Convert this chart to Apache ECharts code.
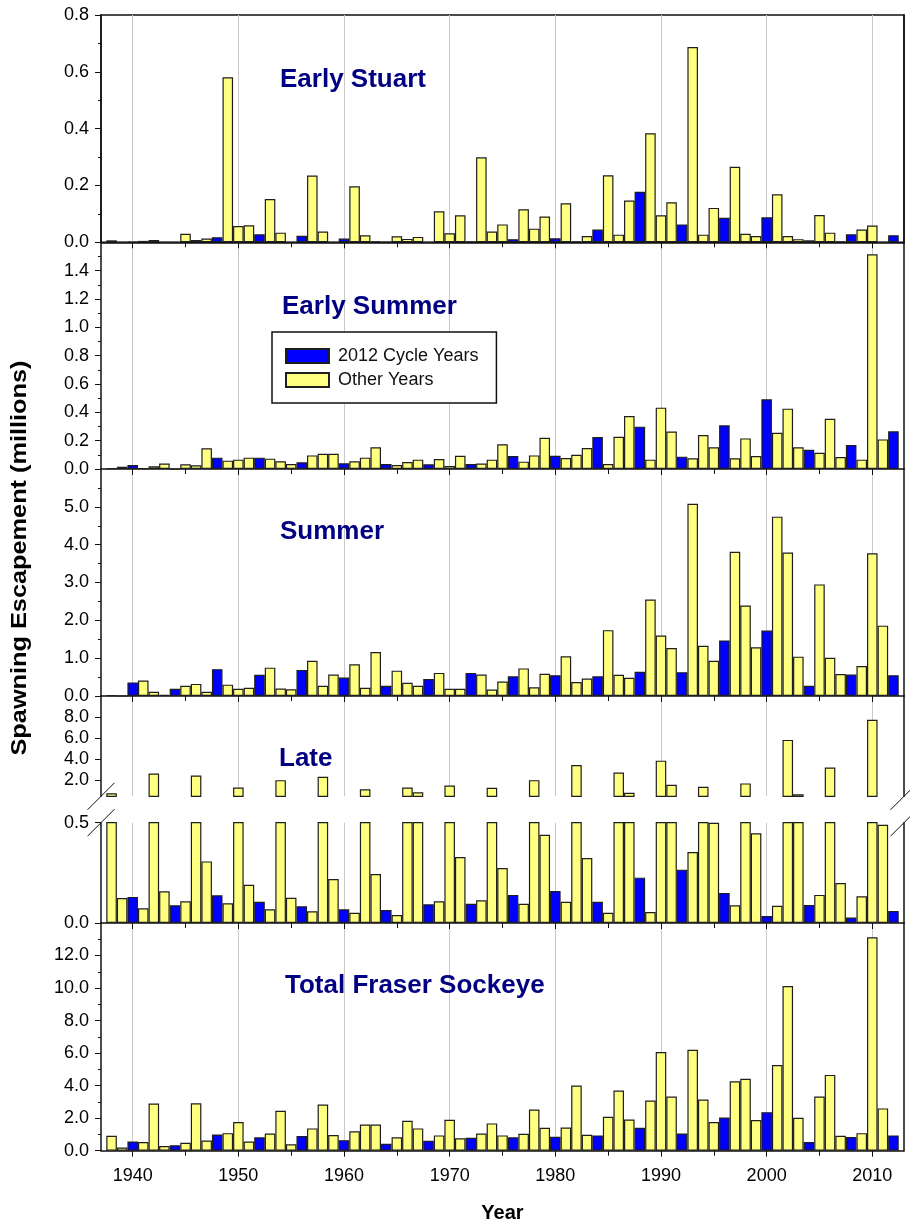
<!DOCTYPE html>
<html>
<head>
<meta charset="utf-8">
<title>Fraser Sockeye Spawning Escapement</title>
<script src="https://cdn.jsdelivr.net/npm/echarts@6/dist/echarts.min.js"></script>
<style>
  html, body { margin: 0; padding: 0; background: #ffffff; }
  #chart { width: 910px; height: 1226px; }
</style>
</head>
<body>
<div id="chart"></div>
<script>
// Brood years shown on the chart
const years = Array.from({ length: 75 }, (_, i) => 1938 + i); // 1938 .. 2012
const cycleYear = 2012; // years on the same 4-year cycle as 2012 are highlighted

// X-axis tick positions
const decadeTicks = [1940, 1950, 1960, 1970, 1980, 1990, 2000, 2010];
const midDecadeTicks = [1945, 1955, 1965, 1975, 1985, 1995, 2005];

// Spawning escapement by run timing group (millions), 1938 .. 2012
const earlyStuart = [
  0.007, 0, 0.002, 0.005, 0.008, 0, 0, 0.030, 0.008, 0.013,
  0.018, 0.581, 0.057, 0.060, 0.028, 0.152, 0.034, 0, 0.023, 0.235,
  0.038, 0, 0.013, 0.197, 0.025, 0.004, 0.001, 0.021, 0.012, 0.019,
  0, 0.109, 0.032, 0.095, 0.004, 0.299, 0.038, 0.063, 0.011, 0.116,
  0.048, 0.091, 0.014, 0.137, 0.004, 0.022, 0.045, 0.236, 0.027, 0.147,
  0.178, 0.384, 0.095, 0.141, 0.063, 0.687, 0.027, 0.121, 0.086, 0.266,
  0.030, 0.022, 0.088, 0.169, 0.022, 0.011, 0.007, 0.096, 0.034, 0.004,
  0.028, 0.045, 0.059, 0, 0.025
];
const earlySummer = [
  0.005, 0.016, 0.028, 0.005, 0.019, 0.038, 0, 0.033, 0.026, 0.146,
  0.080, 0.059, 0.066, 0.080, 0.080, 0.073, 0.054, 0.035, 0.047, 0.096,
  0.108, 0.108, 0.040, 0.054, 0.080, 0.153, 0.035, 0.028, 0.049, 0.066,
  0.033, 0.071, 0.021, 0.094, 0.035, 0.039, 0.066, 0.174, 0.092, 0.052,
  0.096, 0.221, 0.094, 0.078, 0.101, 0.148, 0.226, 0.035, 0.228, 0.374,
  0.299, 0.066, 0.433, 0.264, 0.087, 0.075, 0.240, 0.153, 0.308, 0.075,
  0.216, 0.092, 0.492, 0.256, 0.426, 0.153, 0.136, 0.115, 0.355, 0.085,
  0.169, 0.066, 1.515, 0.209, 0.266
];
const summerRun = [
  0.02, 0, 0.36, 0.41, 0.11, 0.03, 0.19, 0.27, 0.32, 0.11,
  0.71, 0.30, 0.19, 0.22, 0.56, 0.75, 0.20, 0.18, 0.69, 0.93,
  0.27, 0.57, 0.49, 0.84, 0.22, 1.16, 0.27, 0.67, 0.35, 0.27,
  0.45, 0.61, 0.19, 0.19, 0.61, 0.57, 0.17, 0.38, 0.52, 0.73,
  0.23, 0.59, 0.55, 1.05, 0.37, 0.46, 0.52, 1.74, 0.56, 0.48,
  0.64, 2.55, 1.60, 1.27, 0.63, 5.08, 1.33, 0.93, 1.47, 3.81,
  2.39, 1.29, 1.73, 4.74, 3.79, 1.04, 0.27, 2.95, 1.01, 0.58,
  0.57, 0.79, 3.77, 1.86, 0.55
];
const lateRun = [
  0.78, 0.125, 0.130, 0.073, 2.66, 0.158, 0.088, 0.108, 2.47, 0.307,
  0.138, 0.098, 1.34, 0.191, 0.106, 0.068, 2.03, 0.126, 0.083, 0.058,
  2.34, 0.219, 0.068, 0.051, 1.16, 0.244, 0.065, 0.040, 1.34, 0.875,
  0.093, 0.108, 1.53, 0.329, 0.096, 0.113, 1.31, 0.274, 0.140, 0.096,
  2.03, 0.440, 0.159, 0.106, 3.47, 0.324, 0.106, 0.051, 2.75, 0.84,
  0.226, 0.055, 3.875, 1.59, 0.266, 0.354, 1.41, 0.50, 0.150, 0.088,
  1.72, 0.447, 0.035, 0.086, 5.84, 0.69, 0.090, 0.140, 3.22, 0.199,
  0.027, 0.133, 7.75, 0.49, 0.060
];
const totalFraser = [
  0.92, 0.20, 0.57, 0.53, 2.90, 0.29, 0.33, 0.49, 2.92, 0.63,
  1.00, 1.08, 1.76, 0.57, 0.82, 1.06, 2.45, 0.39, 0.90, 1.37,
  2.84, 0.96, 0.65, 1.19, 1.61, 1.61, 0.43, 0.82, 1.84, 1.37,
  0.61, 0.94, 1.90, 0.76, 0.80, 1.06, 1.68, 0.94, 0.82, 1.04,
  2.53, 1.41, 0.86, 1.43, 4.01, 0.98, 0.94, 2.08, 3.70, 1.92,
  1.41, 3.09, 6.07, 3.33, 1.06, 6.21, 3.15, 1.76, 2.04, 4.27,
  4.42, 1.88, 2.37, 5.27, 10.12, 2.02, 0.53, 3.33, 4.66, 0.92,
  0.84, 1.08, 13.12, 2.60, 0.94
];

const legendNames = ['2012 Cycle Years', 'Other Years'];
const panelTitles = ['Early Stuart', 'Early Summer', 'Summer', 'Late', 'Total Fraser Sockeye'];
const yAxisTitle = 'Spawning Escapement (millions)';
const xAxisTitle = 'Year';

// ---- styling / layout ----
const FONT = '"Liberation Sans", Arial, Helvetica, sans-serif';
const AXIS_COLOR = '#111111';
const BLUE = '#0000ff';
const YELLOW = '#ffff80';
const TITLE_COLOR = '#000080';
const PLOT_LEFT = 101;
const PLOT_RIGHT = 904;
const CHART_W = 910;
const LATE_BREAK_TOP = 796.3;
const LATE_BREAK_BOTTOM = 822.7;

const panels = [
  { values: earlyStuart, top: 15, bottom: 242.3, min: 0, max: 0.8, interval: 0.2, minor: 2, hideMax: false, xLine: true },
  { values: earlySummer, top: 242.3, bottom: 469, min: 0, max: 1.6, interval: 0.2, minor: 2, hideMax: true, xLine: true },
  { values: summerRun, top: 469, bottom: 696, min: 0, max: 6, interval: 1, minor: 2, hideMax: true, xLine: true },
  // Late run, upper part of the broken axis (only values above the break)
  { values: lateRun, top: 696, bottom: LATE_BREAK_TOP, min: 0.5, max: 10, custom: [2, 4, 6, 8], above: 0.5, xLine: false },
  // Late run, lower part of the broken axis
  { values: lateRun, top: LATE_BREAK_BOTTOM, bottom: 923, min: 0, max: 0.5, interval: 0.5, minor: 0, hideMax: false, xLine: true },
  { values: totalFraser, top: 923, bottom: 1150.7, min: 0, max: 14, interval: 2, minor: 2, hideMax: true, xLine: true, xLabels: true }
];

const titlePos = [
  { x: 280, y: 80 }, { x: 282, y: 307 }, { x: 280, y: 532 }, { x: 279, y: 759 }, { x: 285, y: 986 }
];

const isCycle = (yr) => (cycleYear - yr) % 4 === 0;
const fmt1 = (v) => Number(v).toFixed(1);

const grids = [], xAxes = [], yAxes = [], series = [];

panels.forEach((p, g) => {
  grids.push({
    left: PLOT_LEFT,
    right: CHART_W - PLOT_RIGHT,
    top: p.top,
    height: p.bottom - p.top,
    show: g === 0,
    borderColor: AXIS_COLOR,
    borderWidth: 1.5,
    backgroundColor: 'transparent'
  });

  // decade axis: labels, ticks and vertical grid lines
  xAxes.push({
    type: 'value', gridIndex: g, min: 1937, max: 2013, position: 'bottom',
    axisLine: { show: p.xLine, onZero: false, lineStyle: { color: AXIS_COLOR, width: 1.5 } },
    axisTick: { show: p.xLine, customValues: decadeTicks, length: 6, lineStyle: { color: AXIS_COLOR, width: 1 } },
    axisLabel: {
      show: !!p.xLabels, customValues: decadeTicks, margin: 16,
      formatter: (v) => String(v),
      fontSize: 18, fontFamily: FONT, color: '#000'
    },
    splitLine: { show: true, lineStyle: { color: '#c8c8c8', width: 1 } }
  });
  // mid-decade ticks
  xAxes.push({
    type: 'value', gridIndex: g, min: 1937, max: 2013, position: 'bottom',
    axisLine: { show: false, onZero: false },
    axisTick: { show: p.xLine, customValues: midDecadeTicks, length: 5, lineStyle: { color: AXIS_COLOR, width: 1 } },
    axisLabel: { show: false },
    splitLine: { show: false }
  });

  const yLeft = {
    type: 'value', gridIndex: g, min: p.min, max: p.max, position: 'left',
    axisLine: { show: true, onZero: false, lineStyle: { color: AXIS_COLOR, width: 1.5 } },
    axisTick: { show: true, length: 6, lineStyle: { color: AXIS_COLOR, width: 1 } },
    axisLabel: {
      formatter: fmt1, margin: 12, fontSize: 18, fontFamily: FONT, color: '#000',
      showMaxLabel: !p.hideMax
    },
    splitLine: { show: false }
  };
  if (p.custom) {
    yLeft.axisTick.customValues = p.custom;
    yLeft.axisLabel.customValues = p.custom;
  } else {
    yLeft.interval = p.interval;
    if (p.minor) {
      yLeft.minorTick = { show: true, splitNumber: p.minor, length: 3, lineStyle: { color: AXIS_COLOR, width: 1 } };
    }
  }
  yAxes.push(yLeft);
  // right-hand frame line
  yAxes.push({
    type: 'value', gridIndex: g, min: p.min, max: p.max, position: 'right',
    axisLine: { show: true, onZero: false, lineStyle: { color: AXIS_COLOR, width: 1.5 } },
    axisTick: { show: false }, axisLabel: { show: false }, splitLine: { show: false }
  });

  const cyc = [], other = [];
  years.forEach((yr, i) => {
    const v = p.values[i];
    if (p.above !== undefined && !(v > p.above)) return;
    (isCycle(yr) ? cyc : other).push([yr, v]);
  });

  const barStyle = (color) => ({ color: color, borderColor: '#1e1e1e', borderWidth: 1.2 });
  series.push({
    name: legendNames[0], type: 'bar', xAxisIndex: 2 * g, yAxisIndex: 2 * g,
    data: cyc, barWidth: '100%', barGap: '-100%', clip: true,
    itemStyle: barStyle(BLUE), emphasis: { disabled: true }, z: 3
  });
  series.push({
    name: legendNames[1], type: 'bar', xAxisIndex: 2 * g, yAxisIndex: 2 * g,
    data: other, barWidth: '100%', barGap: '-100%', clip: true,
    itemStyle: barStyle(YELLOW), emphasis: { disabled: true }, z: 3
  });
});

// panel titles, axis titles and axis-break marks
const graphics = panelTitles.map((t, i) => ({
  type: 'text', x: titlePos[i].x, y: titlePos[i].y, z: 10,
  style: { text: t, fill: TITLE_COLOR, font: 'bold 26px ' + FONT, align: 'left', verticalAlign: 'middle' }
}));
graphics.push({
  type: 'text', x: 20, y: 558, rotation: Math.PI / 2, scaleX: 1.15, z: 10,
  style: { text: yAxisTitle, fill: '#000', font: 'bold 22px ' + FONT, align: 'center', verticalAlign: 'middle' }
});
graphics.push({
  type: 'text', x: (PLOT_LEFT + PLOT_RIGHT) / 2, y: 1213, z: 10,
  style: { text: xAxisTitle, fill: '#000', font: 'bold 20px ' + FONT, align: 'center', verticalAlign: 'middle' }
});
const breakHalf = 13.5;
[PLOT_LEFT, PLOT_RIGHT].forEach((bx) => {
  [LATE_BREAK_TOP, LATE_BREAK_BOTTOM].forEach((by) => {
    graphics.push({
      type: 'line', z: 10,
      shape: { x1: bx - breakHalf, y1: by + breakHalf, x2: bx + breakHalf, y2: by - breakHalf },
      style: { stroke: AXIS_COLOR, lineWidth: 1 }
    });
  });
});

const chart = echarts.init(document.getElementById('chart'), null, { renderer: 'canvas' });
chart.setOption({
  animation: false,
  backgroundColor: '#ffffff',
  textStyle: { fontFamily: FONT },
  grid: grids,
  xAxis: xAxes,
  yAxis: yAxes,
  legend: {
    data: legendNames,
    orient: 'vertical',
    left: 272, top: 332,
    padding: [15, 18, 14, 13],
    itemWidth: 43, itemHeight: 14, itemGap: 6,
    icon: 'rect',
    borderColor: AXIS_COLOR, borderWidth: 1.5,
    backgroundColor: '#ffffff',
    selectedMode: false,
    textStyle: { fontSize: 18, fontFamily: FONT, color: '#111', padding: [0, 0, 0, 4] }
  },
  series: series,
  graphic: graphics
});
</script>
</body>
</html>
